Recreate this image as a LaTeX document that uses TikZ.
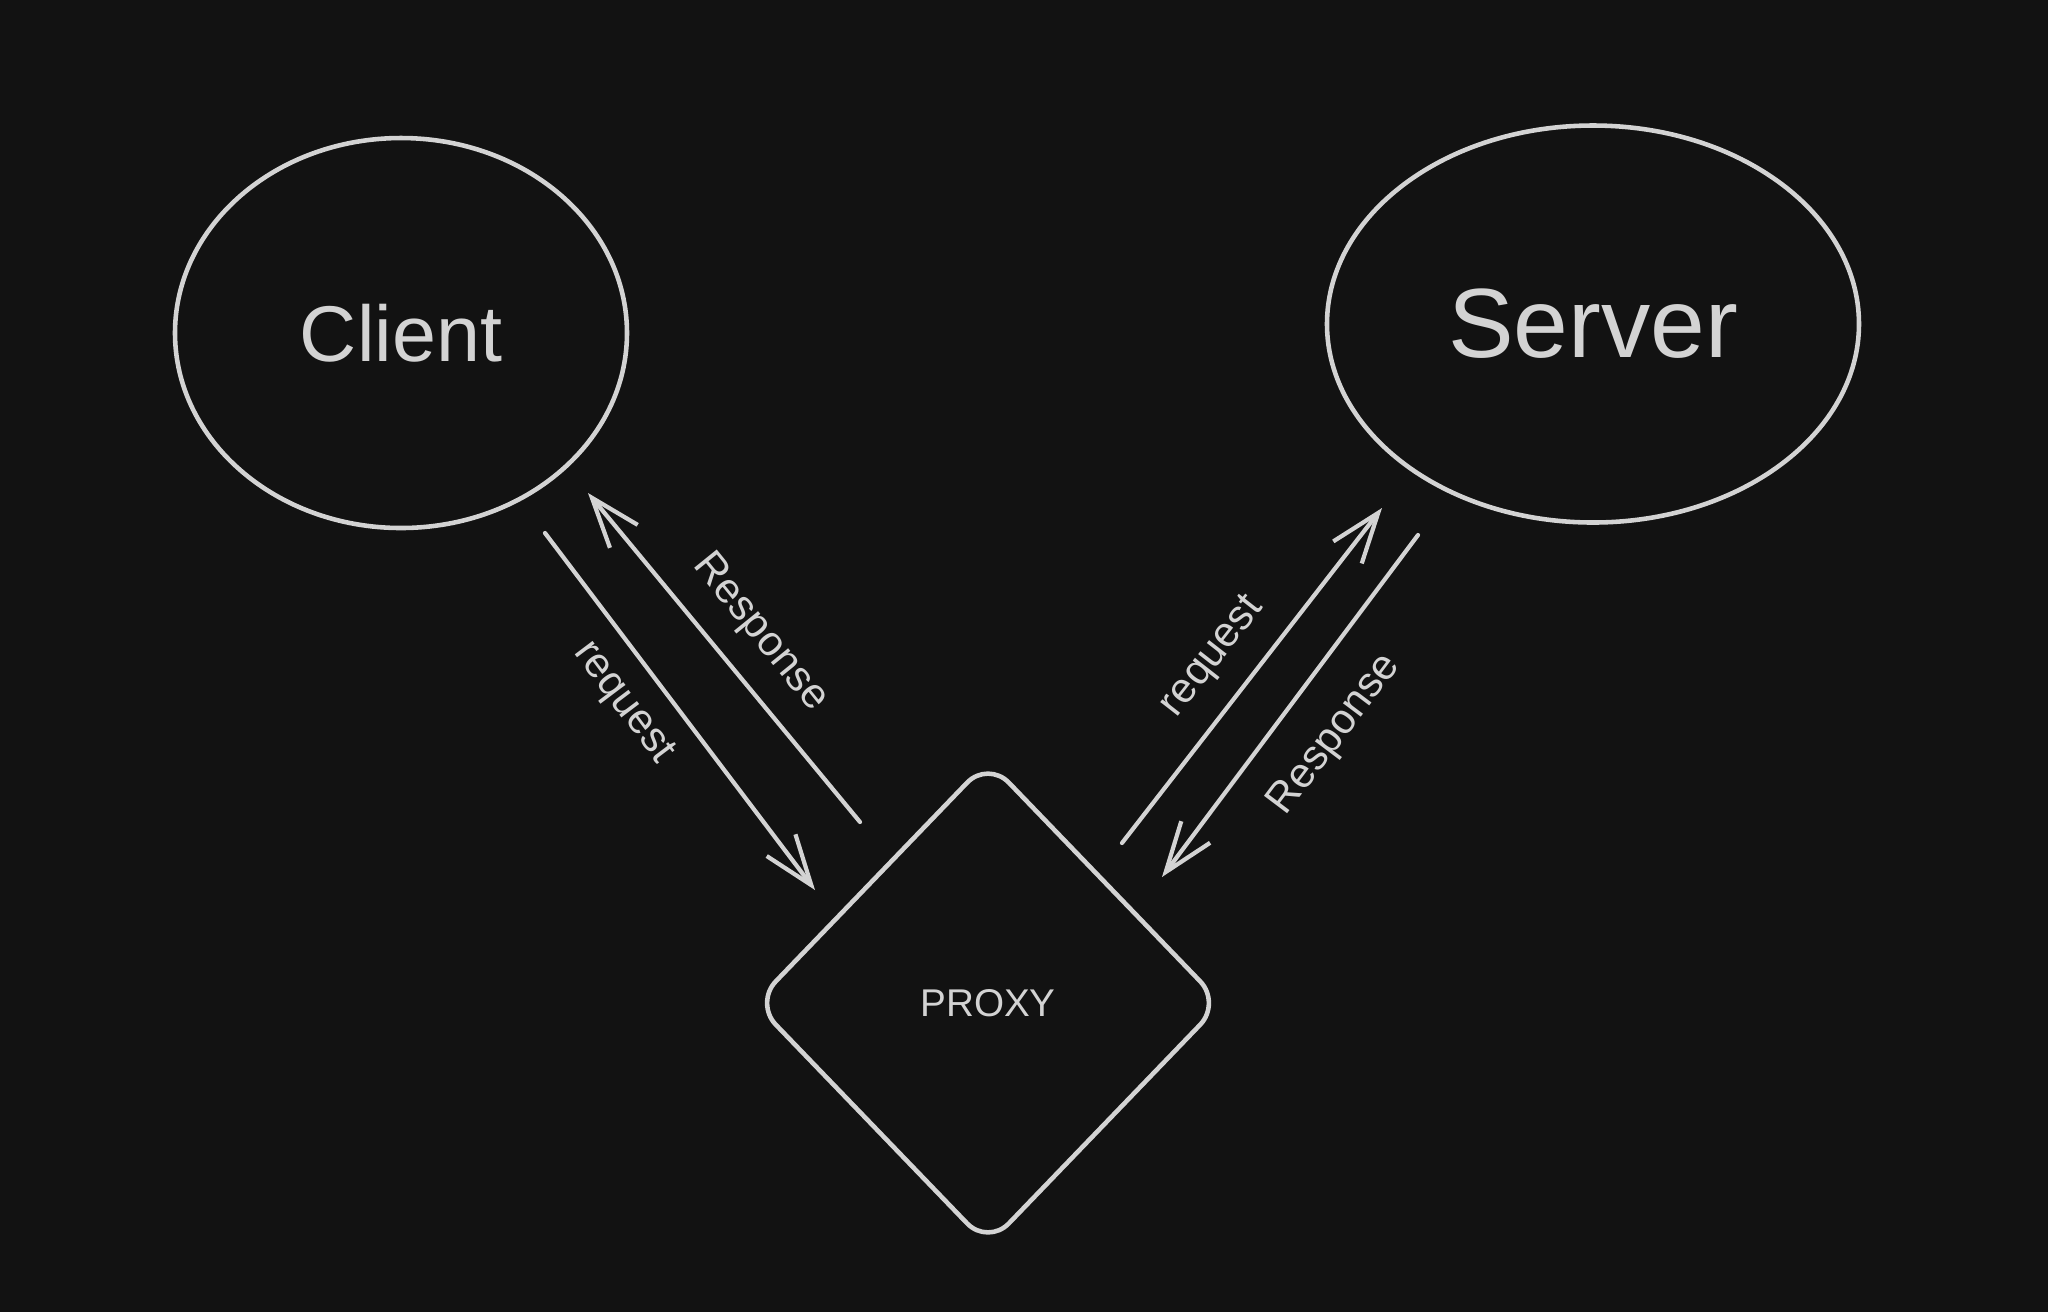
\documentclass[tikz,border=0pt]{standalone}
\usepackage{fontspec}
\setmainfont{Liberation Sans}
\usetikzlibrary{shapes.geometric,arrows.meta}
\definecolor{bgdark}{HTML}{121212}
\definecolor{chalk}{HTML}{D3D3D3}
\tikzset{
  endpoint/.style={draw=chalk,ellipse,line width=1.3pt,inner sep=0pt,text=chalk},
  gate/.style={draw=chalk,diamond,rounded corners=.3cm,line width=1.3pt,inner sep=0pt,
    minimum width=4.68cm,minimum height=4.86cm,text=chalk,font=\fontsize{11}{13}\selectfont},
  flow/.style={draw=chalk,line width=1.2pt,line cap=round,-{Straight Barb[length=.5cm,width=.36cm]}},
  flowlabel/.style={text=chalk,font=\fontsize{12}{14}\selectfont}
}

\begin{document}
\begin{tikzpicture}[join=round] % client -- proxy -- server
        \fill[bgdark] (0,0) rectangle (20.48,-13.12);
        \useasboundingbox (0,0) rectangle (20.48,-13.12);
        \node[endpoint,minimum width=4.52cm,minimum height=3.9cm,font=\fontsize{22.5}{26}\selectfont]
                (client) at (4.01,-3.33) {Client};
        \node[endpoint,minimum width=5.32cm,minimum height=3.97cm,font=\fontsize{28}{32}\selectfont]
                (server) at (15.93,-3.24) {Server};
        \node[gate] (proxy) at (9.88,-10.03) {PROXY};
        % free ends of the four connectors
        \coordinate (cq0) at (5.45,-5.33);   \coordinate (cq1) at (8.15,-8.90);
        \coordinate (cr0) at (8.60,-8.22);   \coordinate (cr1) at (5.88,-4.93);
        \coordinate (sq0) at (11.22,-8.43);  \coordinate (sq1) at (13.82,-5.08);
        \coordinate (sr0) at (14.18,-5.35);  \coordinate (sr1) at (11.62,-8.77);
        \draw[flow] (cq0) -- (cq1);
        \draw[flow] (cr0) -- (cr1);
        \draw[flow] (sq0) -- (sq1);
        \draw[flow] (sr0) -- (sr1);
        \node[flowlabel,rotate=-53] (cqlabel) at (6.23,-7.03) {request};
        \node[flowlabel,rotate=-51] (crlabel) at (7.60,-6.33) {Response};
        \node[flowlabel,rotate=52] (sqlabel) at (12.13,-6.57) {request};
        \node[flowlabel,rotate=53] (srlabel) at (13.35,-7.35) {Response};
\end{tikzpicture}
\end{document}
